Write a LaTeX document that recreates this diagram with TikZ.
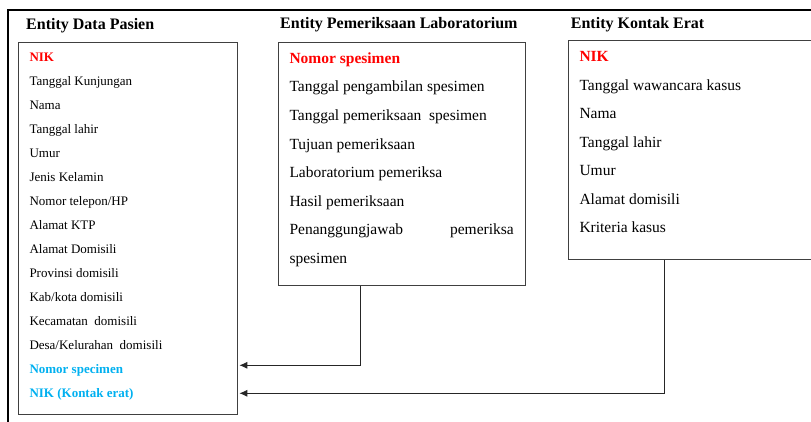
\documentclass[tikz,border=0pt]{standalone}
\usepackage{fontspec}
\setmainfont{Liberation Serif}
\usetikzlibrary{arrows.meta}
\definecolor{keyred}{RGB}{255,0,0}
\definecolor{fkblue}{RGB}{0,176,240}
\tikzset{
  ebox/.style={draw=black!75, line width=1pt, rectangle, anchor=north west, inner sep=0pt},
  ttl/.style={anchor=base west, inner sep=0pt, font=\fontsize{16}{18}\selectfont\bfseries},
  sm/.style={anchor=base west, inner sep=0pt, font=\fontsize{13}{15}\selectfont},
  lg/.style={anchor=base west, inner sep=0pt, font=\fontsize{15.5}{18}\selectfont},
  arr/.style={draw=black!85, line width=1pt, -{Latex[length=8pt,width=7pt]}},
  frame/.style={draw=black, line width=2pt}
}
\begin{document}
\begin{tikzpicture}[x=1pt,y=-1pt]
\useasboundingbox (0,0) rectangle (811,421);
% outer frame (partially visible)
\draw[frame] (8.3,425) -- (8.3,9.5) -- (815,9.5);

% titles
\node[ttl] (t1) at (26,29.3) {Entity Data Pasien};
\node[ttl] (t2) at (280,28.3) {Entity Pemeriksaan Laboratorium};
\node[ttl] (t3) at (570.7,28.3) {Entity Kontak Erat};

% boxes
\node[ebox, minimum width=218.2pt, minimum height=371.7pt] (pasien) at (18.3,42.3) {};
\node[ebox, minimum width=246.4pt, minimum height=242.7pt] (lab) at (278.3,42.3) {};
\node[ebox, minimum width=250pt, minimum height=219.3pt] (kontak) at (568.3,40) {};

% Data Pasien attributes
\node[sm, text=keyred, font=\fontsize{13}{15}\selectfont\bfseries] (p0) at (29.3,61) {NIK};
\foreach \txt [count=\i] in {Tanggal Kunjungan, Nama, Tanggal lahir, Umur, Jenis Kelamin, Nomor telepon/HP, Alamat KTP, Alamat Domisili, Provinsi domisili, Kab/kota domisili, Kecamatan\ \ domisili, Desa/Kelurahan\ \ domisili}{
  \node[sm] (p\i) at (29.3,{61+24*\i}) {\txt};
}
\node[sm, text=fkblue, font=\fontsize{13}{15}\selectfont\bfseries] (p13) at (29.3,373) {Nomor specimen};
\node[sm, text=fkblue, font=\fontsize{13}{15}\selectfont\bfseries] (p14) at (29.3,397) {NIK (Kontak erat)};

% Lab attributes
\node[lg, text=keyred, font=\fontsize{15.5}{18}\selectfont\bfseries] (l0) at (289.3,63.3) {Nomor spesimen};
\node[lg] (l1) at (289.3,91.9) {Tanggal pengambilan spesimen};
\node[lg] (l2) at (289.3,120.5) {Tanggal pemeriksaan\ \ spesimen};
\node[lg] (l3) at (289.3,149.1) {Tujuan pemeriksaan};
\node[lg] (l4) at (289.3,177.7) {Laboratorium pemeriksa};
\node[lg] (l5) at (289.3,206.3) {Hasil pemeriksaan};
\node[lg] (l6) at (289.3,234.9) {Penanggungjawab};
\node[lg, anchor=base east] (l6b) at (514,234.9) {pemeriksa};
\node[lg] (l7) at (289.3,263.5) {spesimen};

% Kontak Erat attributes
\node[lg, text=keyred, font=\fontsize{15.5}{18}\selectfont\bfseries] (k0) at (579.3,61.7) {NIK};
\foreach \txt [count=\i] in {Tanggal\ wawancara\ kasus, Nama, Tanggal\ lahir, Umur, Alamat domisili, Kriteria kasus}{
  \node[lg] (k\i) at (579.3,{61.7+28.5*\i}) {\txt};
}

% connectors
\coordinate (a1) at (239.3,365.3);
\coordinate (a2) at (239.3,393.3);
\draw[arr] ([xshift=82.4pt]lab.south west) |- (a1);
\draw[arr] ([xshift=96pt]kontak.south west) |- (a2);
\end{tikzpicture}
\end{document}
